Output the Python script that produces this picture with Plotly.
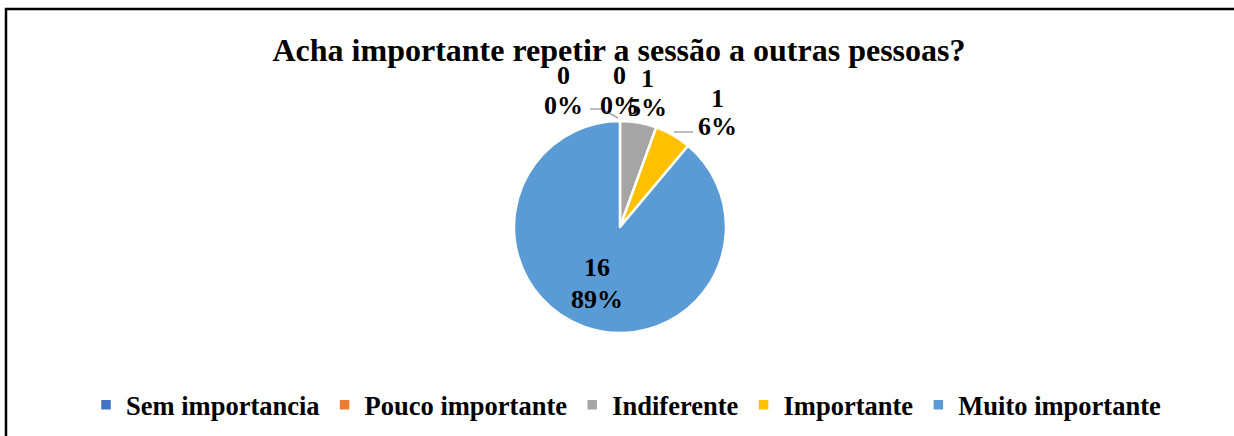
import plotly.graph_objects as go

# Survey answers: "Acha importante repetir a sessão a outras pessoas?"
categories = ["Sem importancia", "Pouco importante", "Indiferente", "Importante", "Muito importante"]
counts = [0, 0, 1, 1, 16]
pct_labels = ["0%", "0%", "5%", "6%", "89%"]
colors = ["#4472C4", "#ED7D31", "#A5A5A5", "#FFC000", "#5B9BD5"]

W, H = 1234, 436
FONT = "Liberation Serif"

def px(x):
    return x / W

def py(y):
    return 1 - y / H

fig = go.Figure(
    go.Pie(
        labels=categories,
        values=counts,
        sort=False,
        direction="clockwise",
        rotation=0,
        marker=dict(colors=colors, line=dict(color="white", width=2.5)),
        textinfo="none",
        hoverinfo="label+value+percent",
        domain=dict(x=[px(514), px(726)], y=[py(333), py(121)]),
    )
)

# data label anchors: (x, y of count line, y of percent line)
label_pos = [(563, 75, 105), (619, 75, 105), (648, 78, 107), (717, 98, 127), (597, 267, 299)]
annotations = []
for (x, y1, y2), c, p in zip(label_pos, counts, pct_labels):
    for y, t in ((y1, str(c)), (y2, p)):
        annotations.append(dict(
            x=px(x), y=py(y), xref="paper", yref="paper",
            text=f"<b>{t}</b>", showarrow=False,
            font=dict(family=FONT, size=26, color="black"),
            xanchor="center", yanchor="middle",
        ))

# leader lines for the small slices
shapes = [
    dict(type="path", xref="paper", yref="paper",
         path=f"M {px(590)} {py(109)} L {px(602)} {py(109)} L {px(618)} {py(118)}",
         line=dict(color="#A6A6A6", width=1.5)),
    dict(type="line", xref="paper", yref="paper",
         x0=px(674), y0=py(132), x1=px(693), y1=py(132),
         line=dict(color="#A6A6A6", width=1.5)),
    # chart frame
    dict(type="rect", xref="paper", yref="paper",
         x0=px(6), y0=py(9), x1=px(1250), y1=py(460),
         line=dict(color="black", width=2.5), fillcolor="rgba(0,0,0,0)"),
]

fig.update_layout(
    width=W, height=H,
    margin=dict(l=0, r=0, t=0, b=0),
    paper_bgcolor="white",
    plot_bgcolor="white",
    title=dict(
        text="<b>Acha importante repetir a sessão a outras pessoas?</b>",
        x=px(619), xanchor="center", y=py(50), yanchor="middle",
        font=dict(family=FONT, size=32, color="black"),
    ),
    legend=dict(
        orientation="h", x=px(626), xanchor="center", y=py(405), yanchor="middle",
        font=dict(family=FONT, size=26.5, color="black", weight="bold"),
        itemwidth=30, traceorder="normal",
    ),
    annotations=annotations,
    shapes=shapes,
)

fig.write_html("out.html")
